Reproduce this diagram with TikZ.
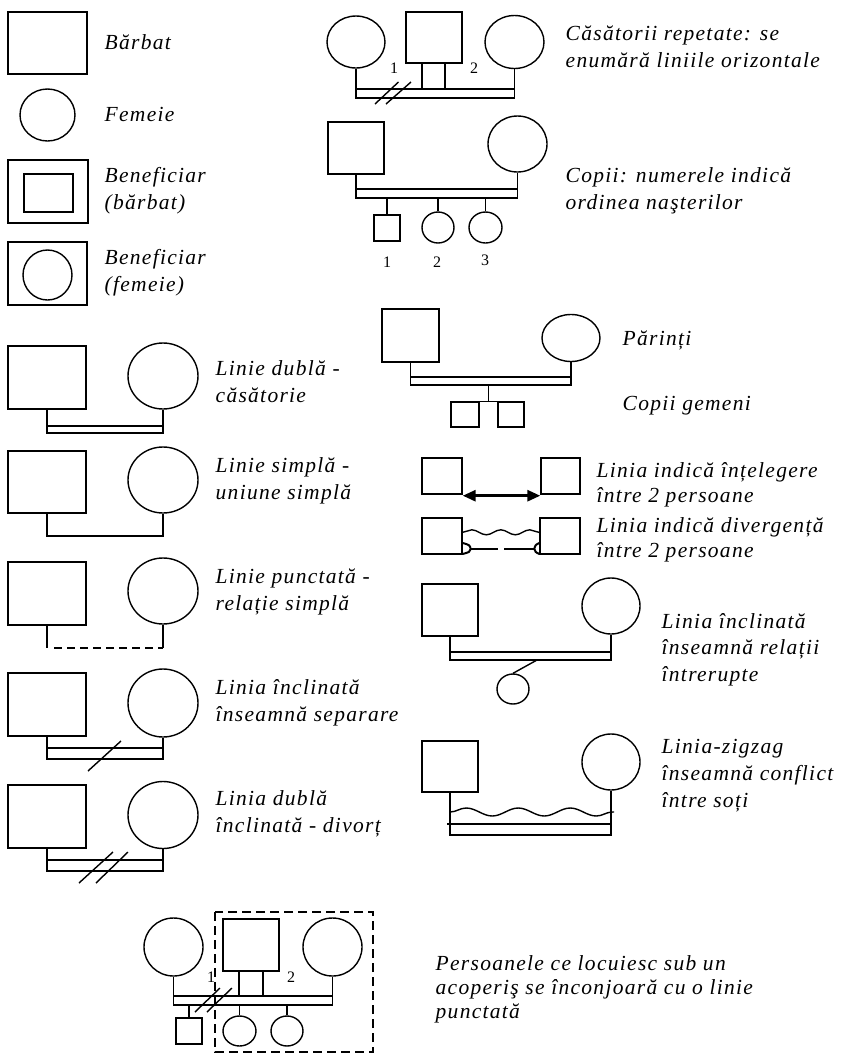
\documentclass[tikz,border=0pt]{standalone}
\usepackage{fontspec}
\setmainfont{Liberation Serif}
\newfontfamily\notefont{Liberation Serif}[LetterSpace=6]
\usetikzlibrary{shapes.geometric,arrows.meta,decorations.pathmorphing,calc}

\begin{document}
\begin{tikzpicture}[x=1pt, y=-1pt,
  line width=1.4pt,
  wh/.style 2 args={minimum width=#1, minimum height=#2},
  male/.style={draw, rectangle, inner sep=0pt},
  female/.style={draw, ellipse, inner sep=0pt},
  note/.style={anchor=base west, align=left, inner sep=0pt,
               font=\fontsize{21.5}{27}\selectfont\notefont\itshape},
  num/.style={inner sep=0pt, font=\fontsize{16}{16}\selectfont},
  dashline/.style={line width=2.2pt, dash pattern=on 8pt off 5pt},
  wave/.style={decorate, decoration={snake, segment length=#1, amplitude=4pt}},
]
\useasboundingbox (0,0) rectangle (842,1053);
% note: the base of a note is the baseline of its last line

% ================= legend =================
\node[male, wh={79}{62}] (man) at (47.5,43) {};
\node[note] (tman) at (104,49) {Bărbat};
\node[female, wh={55}{52}] (woman) at (47.5,115) {};
\node[note] (twoman) at (104,121) {Femeie};
\node[male, wh={80}{63}] (benm) at (48,191.5) {};
\node[male, wh={49}{38}] (benmin) at (48.5,193) {};
\node[note] (tbenm) at (104,209) {Beneficiar\\(bărbat)};
\node[male, wh={79}{63}] (benf) at (47.5,273.5) {};
\node[female, wh={49}{50}] (benfin) at (47.5,275) {};
\node[note] (tbenf) at (104,291) {Beneficiar\\(femeie)};

% ================= left column : couples =================
% double line - marriage
\node[male, wh={78}{63}] (ma) at (47,377.5) {};
\node[female, wh={70}{66}] (fa) at (163,376) {};
\coordinate (ua) at (0,426); \coordinate (da) at (0,433);
\draw (ma.south) |- (fa.south |- da) -- (fa.south);
\draw (ma.south |- ua) -- (fa.south |- ua);
\node[note] (ta) at (215,402) {Linie dublă -\\căsătorie};

% single line
\node[male, wh={78}{62}] (mb) at (47,482) {};
\node[female, wh={70}{66}] (fb) at (163,480) {};
\coordinate (db) at (0,536);
\draw (mb.south) |- (fb.south |- db) -- (fb.south);
\node[note] (tb) at (215,499) {Linie simplă -\\uniune simplă};

% dotted line
\node[male, wh={78}{63}] (mc) at (47,593.5) {};
\node[female, wh={70}{66}] (fc) at (163,591) {};
\coordinate (dc) at (0,648);
\draw (mc.south) -- (mc.south |- dc);
\draw[dashline] ([xshift=7pt]mc.south |- dc) -- (fc.south |- dc);
\draw (fc.south) -- (fc.south |- dc);
\node[note] (tc) at (215,610) {Linie punctată -\\relație simplă};

% separation
\node[male, wh={78}{63}] (md) at (47,704.5) {};
\node[female, wh={70}{68}] (fd) at (163,703) {};
\coordinate (ud) at (0,748); \coordinate (dd) at (0,759);
\draw (md.south) |- (fd.south |- dd) -- (fd.south);
\draw (md.south |- ud) -- (fd.south |- ud);
\draw (88,771) -- (121,741);
\node[note] (td) at (215,721) {Linia înclinată\\înseamnă separare};

% divorce
\node[male, wh={78}{63}] (me) at (47,816.5) {};
\node[female, wh={70}{67}] (fe) at (163,815) {};
\coordinate (ue) at (0,860); \coordinate (de) at (0,871);
\draw (me.south) |- (fe.south |- de) -- (fe.south);
\draw (me.south |- ue) -- (fe.south |- ue);
\draw (79,883) -- (113,852);
\draw (96,883) -- (128,852);
\node[note] (te) at (215,832) {Linia dublă\\înclinată - divorț};

% ================= right column =================
% repeated marriages
\node[female, wh={58}{52}] (wf1) at (356,42) {};
\node[male, wh={56}{51}] (hf) at (434,37.5) {};
\node[female, wh={59}{53}] (wf2) at (514.5,42) {};
\coordinate (uf) at (0,89); \coordinate (df) at (0,98);
\draw (wf1.south) |- (wf2.south |- df) -- (wf2.south);
\draw (wf1.south |- uf) -- (wf2.south |- uf);
\draw ([xshift=-12pt]hf.south) -- ([xshift=-12pt]hf.south |- uf);
\draw ([xshift=11pt]hf.south) -- ([xshift=11pt]hf.south |- uf);
\draw (375,104) -- (398.5,82);
\draw (386,104) -- (411,82);
\node[num] (n1f) at (394,68) {1};
\node[num] (n2f) at (474,68) {2};
\node[note] (tf) at (565,67) {Căsătorii repetate: se\\enumără liniile orizontale};

% children, birth order
\node[male, wh={56}{52}] (mg) at (356,148) {};
\node[female, wh={59}{56}] (fg) at (517.5,144) {};
\coordinate (ug) at (0,189); \coordinate (dg) at (0,198);
\draw (mg.south) |- (fg.south |- dg) -- (fg.south);
\draw (mg.south |- ug) -- (fg.south |- ug);
\node[male, wh={26}{26}] (k1) at (387,228) {};
\node[female, wh={32}{31}] (k2) at (438,227.5) {};
\node[female, wh={33}{31}] (k3) at (485.5,227.5) {};
\foreach \k in {k1,k2,k3} \draw (\k.north) -- (\k.north |- dg);
\node[num] (n1g) at (387,262) {1};
\node[num] (n2g) at (437,262) {2};
\node[num] (n3g) at (485,260) {3};
\node[note] (tg) at (565,209) {Copii: numerele indică\\ordinea naşterilor};

% parents and twins
\node[male, wh={57}{53}] (mh) at (410.5,335.5) {};
\node[female, wh={58}{47}] (fh) at (571,338) {};
\coordinate (uh) at (0,377); \coordinate (dh) at (0,385);
\draw (mh.south) |- (fh.south |- dh) -- (fh.south);
\draw (mh.south |- uh) -- (fh.south |- uh);
\node[male, wh={28}{25}] (tw1) at (465,414.5) {};
\node[male, wh={26}{25}] (tw2) at (511,414.5) {};
\coordinate (jh) at ($(tw1.north east)!0.5!(tw2.north west)$);
\draw (tw1.north east) -- (tw2.north west);
\draw (jh) -- (jh |- dh);
\node[note] (th1) at (622,345) {Părinți};
\node[note] (th2) at (622,410) {Copii gemeni};

% understanding
\node[male, wh={40}{36}] (pi1) at (442,476) {};
\node[male, wh={39}{36}] (pi2) at (560.5,476) {};
\draw[line width=2.8pt, {Triangle[length=13pt,width=11pt]}-{Triangle[length=13pt,width=11pt]}]
  ([yshift=-1pt]pi1.south east) -- ([yshift=-1pt]pi2.south west);
\node[note, font=\fontsize{21.5}{25}\selectfont\notefont\itshape] (ti) at (596,502)
  {Linia indică înțelegere\\între 2 persoane};

% divergence
\node[male, wh={40}{36}] (pj1) at (442,536) {};
\node[male, wh={40}{36}] (pj2) at (560,536) {};
\draw[decorate, decoration={snake, segment length=29pt, amplitude=2.5pt}]
  ([yshift=-15pt]pj1.north east) -- ([yshift=-15pt]pj2.north west);
\draw[line width=2.6pt] ([shift={(8pt,-13pt)}]pj1.east) -- ([shift={(35pt,-13pt)}]pj1.east);
\draw[line width=2.6pt] ([shift={(-35pt,-13pt)}]pj2.west) -- ([shift={(-5pt,-13pt)}]pj2.west);
\draw[line width=2pt] ([yshift=-7pt]pj1.east) .. controls ([shift={(7pt,-9pt)}]pj1.east) .. ([shift={(8pt,-13pt)}]pj1.east)
  .. controls ([shift={(7pt,-16pt)}]pj1.east) .. ([yshift=-18pt]pj1.east);
\draw[line width=2pt] ([yshift=-7pt]pj2.west) .. controls ([shift={(-4pt,-9pt)}]pj2.west) .. ([shift={(-5pt,-13pt)}]pj2.west)
  .. controls ([shift={(-4pt,-16pt)}]pj2.west) .. ([yshift=-18pt]pj2.west);
\node[note, font=\fontsize{21.5}{25}\selectfont\notefont\itshape] (tj) at (596,557)
  {Linia indică divergență\\între 2 persoane};

% broken relations
\node[male, wh={56}{52}] (mk) at (450,610) {};
\node[female, wh={58}{56}] (fk) at (611,606) {};
\coordinate (uk) at (0,652); \coordinate (dk) at (0,660);
\draw (mk.south) |- (fk.south |- dk) -- (fk.south);
\draw (mk.south |- uk) -- (fk.south |- uk);
\node[female, wh={32}{30}] (ck) at (513,689) {};
\coordinate (sk) at (537,660);
\draw (sk) -- (ck.north);
\node[note, font=\fontsize{21.5}{26.5}\selectfont\notefont\itshape] (tk) at (661,681)
  {Linia înclinată\\înseamnă relații\\întrerupte};

% conflict
\node[male, wh={56}{51}] (ml) at (450,766.5) {};
\node[female, wh={58}{56}] (fl) at (611,762) {};
\coordinate (ul) at (0,824); \coordinate (dl) at (0,835); \coordinate (wl) at (0,812);
\draw (ml.south) |- (fl.south |- dl) -- (fl.south);
\draw ([xshift=-3pt]ml.south |- ul) -- (fl.south |- ul);
\draw[wave=52pt] (ml.south |- wl) -- ([xshift=3pt]fl.south |- wl);
\node[note] (tl) at (661,807) {Linia-zigzag\\înseamnă conflict\\între soți};

% ================= same roof =================
\node[female, wh={59}{58}] (wm1) at (173.5,947) {};
\node[male, wh={56}{52}] (hm) at (251,945) {};
\node[female, wh={59}{58}] (wm2) at (332.5,947) {};
\coordinate (um) at (0,996); \coordinate (dm) at (0,1005);
\draw (wm1.south) |- (wm2.south |- dm) -- (wm2.south);
\draw (wm1.south |- um) -- (wm2.south |- um);
\draw ([xshift=-12pt]hm.south) -- ([xshift=-12pt]hm.south |- um);
\draw ([xshift=12pt]hm.south) -- ([xshift=12pt]hm.south |- um);
\draw (195,1012) -- (220,988);
\draw (207,1012) -- (232,988);
\node[num] (n1m) at (211,977) {1};
\node[num] (n2m) at (291,977) {2};
\node[male, wh={26}{26}] (km1) at (189,1031) {};
\node[female, wh={33}{30}] (km2) at (239.5,1031) {};
\node[female, wh={32}{30}] (km3) at (287,1031) {};
\foreach \k in {km1,km2,km3} \draw (\k.north) -- (\k.north |- dm);
\draw[line width=2.2pt, dash pattern=on 9pt off 5pt] (215,912) rectangle (373,1052);
\node[note, font=\fontsize{21.5}{24}\selectfont\notefont\itshape] (tm) at (435,1018)
  {Persoanele ce locuiesc sub un\\acoperiş se înconjoară cu o linie\\punctată};
\end{tikzpicture}
\end{document}
